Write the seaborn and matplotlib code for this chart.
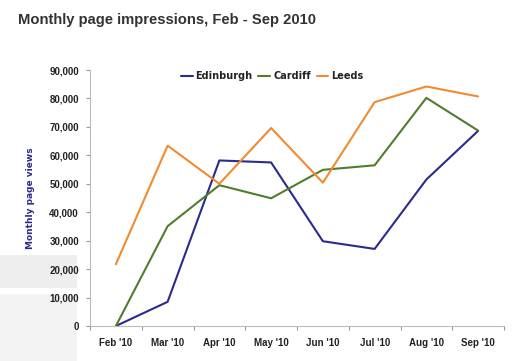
import numpy as np
import pandas as pd
import matplotlib
matplotlib.use("Agg")
import matplotlib.pyplot as plt
import seaborn as sns
from matplotlib.patches import Rectangle

months = ["Feb '10", "Mar '10", "Apr '10", "May '10", "Jun '10", "Jul '10", "Aug '10", "Sep '10"]
edinburgh = [0, 8500, 58200, 57500, 29800, 27100, 51500, 68600]
cardiff = [0, 35100, 49500, 44900, 54900, 56500, 80200, 68700]
leeds = [21700, 63400, 50000, 69600, 50400, 78700, 84200, 80700]
cities = ["Edinburgh", "Cardiff", "Leeds"]
colors = ["#2b2a8e", "#4f7d2c", "#f28a30"]

df = pd.DataFrame({
    "pos": list(range(len(months))) * 3,
    "views": edinburgh + cardiff + leeds,
    "city": [c for c in cities for _ in months],
})

sns.set_style("white")
plt.rcParams['font.family'] = ['Liberation Sans', 'DejaVu Sans']

fig = plt.figure(figsize=(5.3, 3.61), dpi=100)
# grey boxes from the screenshot on the left edge, kept behind everything
fig.patches.append(Rectangle((0, 1 - 288/361), 77/530, 33/361, transform=fig.transFigure,
                             facecolor="#eeeeee", edgecolor="none", zorder=-10))
fig.patches.append(Rectangle((0, 0), 77/530, 1 - 294/361, transform=fig.transFigure,
                             facecolor="#f3f3f3", edgecolor="none", zorder=-10))

ax = fig.add_axes([90/530, 1 - 326/361, 414/530, 256/361])
ax.patch.set_alpha(0)
sns.lineplot(data=df, x="pos", y="views", hue="city", palette=colors, linewidth=1.5, ax=ax)

ax.set_xlim(-0.5, 7.5)
ax.set_ylim(0, 90000)
ax.set_xticks(np.arange(-0.5, 8, 1))
ax.set_xticklabels([])
ax.set_xticks(range(len(months)), minor=True)
ax.set_xticklabels(months, minor=True, fontsize=7, fontweight="bold", color="#222222")
ax.tick_params(axis="x", which="major", length=3, color="#999999", direction="out", bottom=True)
ax.tick_params(axis="x", which="minor", length=0, pad=9)
ax.set_yticks(range(0, 90001, 10000))
ax.set_yticklabels([f"{v:,}" for v in range(0, 90001, 10000)], fontsize=7, fontweight="bold", color="#222222")
ax.tick_params(axis="y", length=3, color="#999999", direction="out", left=True, pad=5)

for s in ["top", "right"]:
    ax.spines[s].set_visible(False)
for s in ["left", "bottom"]:
    ax.spines[s].set_color("#bbbbbb")
    ax.spines[s].set_linewidth(0.8)

ax.set_xlabel("")
ax.set_ylabel("Monthly page views", fontsize=6.5, fontweight="bold", color="#2b2a8e",
              family=["DejaVu Sans"], labelpad=10)

ax.legend(ncol=3, loc="upper center", bbox_to_anchor=(0.44, 1.03), frameon=False,
          handlelength=1.2, handletextpad=0.3, columnspacing=0.6,
          prop={"family": "DejaVu Sans", "size": 7, "weight": "bold"})
for t in ax.get_legend().get_texts():
    t.set_color("#222222")

fig.text(18/530, 1 - 20/361, "Monthly page impressions, Feb - Sep 2010", fontsize=10.6,
         fontweight="bold", color="#333333", va="center", ha="left")

fig.savefig("out.png", dpi=100)
